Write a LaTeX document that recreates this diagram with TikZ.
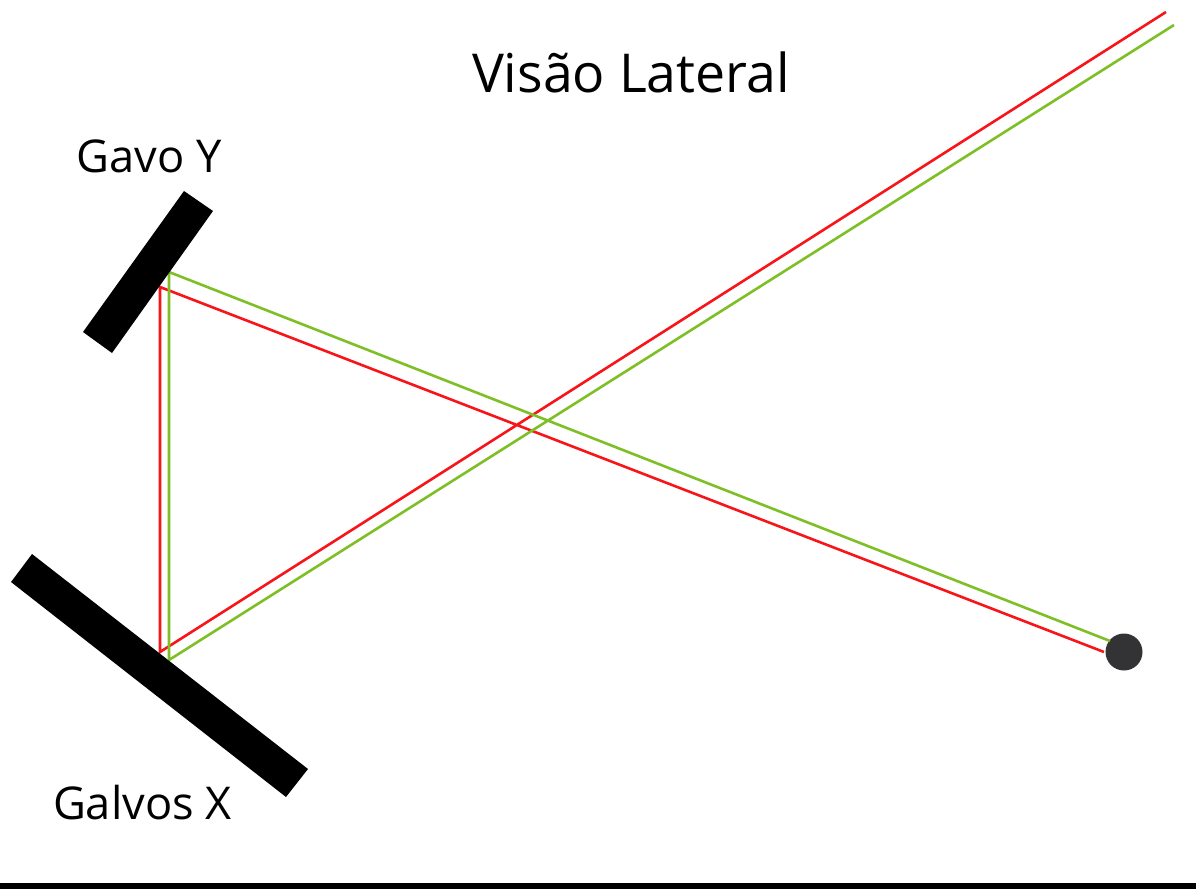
\documentclass[tikz,border=0pt]{standalone}
\usepackage{fontspec}
\setmainfont{Open Sans}
\usepackage{xcolor}
\usepackage{tikz}
\definecolor{rayred}{HTML}{F8151A}
\definecolor{raygreen}{HTML}{7FBF26}
\definecolor{spotfill}{HTML}{333336}
\begin{document}
\begin{tikzpicture}[
  x=0.5pt, y=-0.5pt,
  mirror/.style={fill=black, draw=none},
  redray/.style={draw=rayred, line width=1.3pt, line join=miter},
  greenray/.style={draw=raygreen, line width=1.3pt, line join=miter},
  spot/.style={circle, fill=spotfill, inner sep=0pt, minimum size=18.5pt},
  caption/.style={anchor=base, inner sep=0pt, font=\fontsize{26.8}{30}\selectfont},
  label/.style={anchor=base, inner sep=0pt, font=\fontsize{22.6}{26}\selectfont},
]
  \useasboundingbox (0,0) rectangle (1196,889);
  \fill[white] (0,0) rectangle (1196,889);

  \node[caption] (title) at (631,92) {Visão Lateral};
  \node[label] (galvoy) at (149,172) {Gavo Y};
  \node[label] (galvox) at (142.5,819) {Galvos X};

  \node[spot] (target) at (1124,652) {};

  \coordinate (redin) at (1166,12);
  \coordinate (redx) at (160,652);
  \coordinate (redy) at (160,287);
  \coordinate (redout) at (1104,652);
  \coordinate (greenin) at (1174,25);
  \coordinate (greenx) at (169,660);
  \coordinate (greeny) at (169,272);
  \coordinate (greenout) at (1110,641);

  \draw[redray] (redin) -- (redx) -- (redy) -- (redout);
  \draw[greenray] (greenin) -- (greenx) -- (greeny) -- (greenout);

  \fill[mirror] (32,554) -- (308,769) -- (286,797) -- (11,582) -- cycle;
  \fill[mirror] (184,191) -- (213,211) -- (112,353) -- (83,332) -- cycle;

  % bottom edge
  \fill[black] (0,883) rectangle (1196,889);
\end{tikzpicture}
\end{document}
